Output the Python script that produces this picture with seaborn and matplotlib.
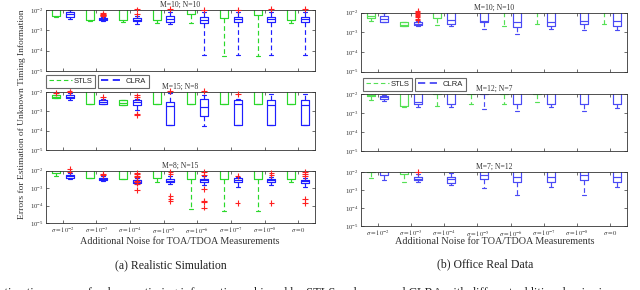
import numpy as np
import pandas as pd
import matplotlib
matplotlib.use('Agg')
import matplotlib.pyplot as plt
from matplotlib.lines import Line2D
from matplotlib.ticker import NullLocator, FixedLocator
import seaborn as sns

noise_levels = [r'$\sigma = 10^{-2}$', r'$\sigma = 10^{-3}$', r'$\sigma = 10^{-4}$',
                r'$\sigma = 10^{-5}$', r'$\sigma = 10^{-6}$', r'$\sigma = 10^{-7}$',
                r'$\sigma = 10^{-8}$', r'$\sigma = 0$']
methods = ['STLS', 'CLRA']

# each box: log10 of (low whisker, q1, median, q3, high whisker); values > -2 fall off the top
HIDDEN = (-1.9, -1.8, -1.7, -1.6, -1.5)

# (a) realistic simulation
sim_a_stls = [(-2.35, -2.31, -1.9, -1.7, -1.5), (-2.55, -2.50, -1.9, -1.7, -1.5),
              (-2.60, -2.50, -1.9, -1.7, -1.5), (-2.62, -2.50, -1.9, -1.7, -1.5),
              (-2.62, -2.22, -1.9, -1.7, -1.5), (-4.28, -2.37, -1.9, -1.7, -1.5),
              (-4.28, -2.25, -1.9, -1.7, -1.5), (-2.62, -2.50, -1.9, -1.7, -1.5)]
sim_a_clra = [(-2.42, -2.33, -2.22, -2.12, -2.00), (-2.55, -2.50, -2.45, -2.38, -2.33),
              (-2.67, -2.55, -2.47, -2.38, -2.28), (-2.67, -2.58, -2.42, -2.28, -2.12),
              (-4.22, -2.62, -2.47, -2.33, -2.08), (-4.20, -2.60, -2.45, -2.33, -2.10),
              (-4.20, -2.60, -2.45, -2.33, -2.08), (-4.20, -2.60, -2.45, -2.33, -2.10)]
sim_a_out = [(1, 'CLRA', -2.17), (1, 'CLRA', -2.20), (1, 'CLRA', -2.23), (1, 'CLRA', -2.26),
             (1, 'CLRA', -2.28), (2, 'CLRA', -1.97), (2, 'CLRA', -2.22), (3, 'CLRA', -1.95),
             (4, 'CLRA', -1.98), (5, 'CLRA', -2.00), (6, 'CLRA', -1.93), (7, 'CLRA', -1.97)]

sim_b_stls = [(-2.33, -2.31, -2.24, -2.17, -2.15), (-2.62, -2.60, -1.9, -1.7, -1.5),
              (-2.66, -2.65, -2.55, -2.43, -2.42), (-2.62, -2.60, -1.9, -1.7, -1.5),
              (-2.62, -2.60, -1.9, -1.7, -1.5), (-2.62, -2.60, -1.9, -1.7, -1.5),
              (-2.62, -2.60, -1.9, -1.7, -1.5), (-2.62, -2.60, -1.9, -1.7, -1.5)]
sim_b_clra = [(-2.43, -2.31, -2.24, -2.17, -2.03), (-2.62, -2.60, -2.52, -2.43, -2.34),
              (-2.95, -2.65, -2.50, -2.43, -2.34), (-3.70, -3.69, -2.72, -2.52, -2.03),
              (-3.76, -3.24, -2.78, -2.38, -2.14), (-3.73, -3.72, -2.60, -2.43, -2.34),
              (-3.73, -3.72, -2.65, -2.43, -2.09), (-3.73, -3.72, -2.65, -2.43, -2.09)]
sim_b_out = [(0, 'STLS', -2.03), (0, 'CLRA', -1.97), (0, 'CLRA', -1.99), (1, 'CLRA', -2.26),
             (2, 'CLRA', -2.17), (2, 'CLRA', -2.28), (2, 'CLRA', -3.12), (2, 'CLRA', -3.20),
             (3, 'CLRA', -1.95), (4, 'CLRA', -1.96), (5, 'CLRA', -2.09)]

sim_c_stls = [(-2.29, -2.15, -1.9, -1.7, -1.5), (-2.42, -2.40, -1.9, -1.7, -1.5),
              (-2.50, -2.48, -1.9, -1.7, -1.5), (-2.63, -2.40, -1.9, -1.7, -1.5),
              (-4.19, -2.48, -1.9, -1.7, -1.5), (-4.34, -2.48, -1.9, -1.7, -1.5),
              (-4.30, -2.48, -1.9, -1.7, -1.5), (-2.63, -2.48, -1.9, -1.7, -1.5)]
sim_c_clra = [(-2.48, -2.44, -2.34, -2.25, -2.15), (-2.59, -2.53, -2.47, -2.40, -2.34),
              (-2.78, -2.72, -2.63, -2.53, -2.40), (-2.78, -2.67, -2.59, -2.50, -2.29),
              (-2.82, -2.67, -2.57, -2.48, -2.34), (-2.97, -2.67, -2.57, -2.45, -2.35),
              (-2.82, -2.67, -2.57, -2.48, -2.36), (-2.97, -2.72, -2.62, -2.53, -2.40)]
sim_c_out = [(0, 'CLRA', -1.92), (0, 'CLRA', -2.06), (1, 'CLRA', -2.20), (1, 'CLRA', -2.27),
             (2, 'CLRA', -2.15), (2, 'CLRA', -2.22), (2, 'CLRA', -2.30), (2, 'CLRA', -2.38),
             (2, 'CLRA', -2.60), (2, 'CLRA', -2.68), (2, 'CLRA', -2.75), (2, 'CLRA', -3.10),
             (3, 'CLRA', -2.06), (3, 'CLRA', -2.21), (3, 'CLRA', -3.45), (3, 'CLRA', -3.60),
             (3, 'CLRA', -3.75), (4, 'CLRA', -2.10), (4, 'CLRA', -2.25), (4, 'CLRA', -3.05),
             (4, 'CLRA', -3.72), (4, 'CLRA', -3.80), (4, 'CLRA', -4.12), (5, 'CLRA', -2.30),
             (5, 'CLRA', -3.87), (6, 'CLRA', -2.15), (6, 'CLRA', -2.28), (6, 'CLRA', -3.87),
             (7, 'CLRA', -2.06), (7, 'CLRA', -2.20), (7, 'CLRA', -2.32), (7, 'CLRA', -3.62),
             (7, 'CLRA', -3.87)]

# (b) office real data
real_a_stls = [(-2.41, -2.29, -2.15, -1.9, -1.7), (-2.67, -2.66, -2.60, -2.49, -2.48),
               (-2.63, -2.29, -1.9, -1.8, -1.6), HIDDEN,
               (-2.69, -1.95, -1.8, -1.7, -1.5), (-2.58, -1.95, -1.8, -1.7, -1.5),
               HIDDEN, (-2.58, -1.95, -1.8, -1.7, -1.5)]
real_a_clra = [(-2.49, -2.46, -2.32, -2.19, -2.00), (-2.66, -2.63, -2.58, -2.49, -2.41),
               (-2.66, -2.58, -2.36, -1.9, -1.7), (-2.83, -2.49, -2.41, -1.9, -1.7),
               (-3.08, -2.75, -2.49, -1.9, -1.7), (-2.83, -2.69, -2.46, -1.9, -1.7),
               (-2.86, -2.58, -2.41, -1.9, -1.7), (-2.86, -2.69, -2.41, -1.9, -1.7)]
real_a_out = [(1, 'CLRA', -1.92), (1, 'CLRA', -1.97), (1, 'CLRA', -2.02), (1, 'CLRA', -2.07),
              (1, 'CLRA', -2.12), (1, 'CLRA', -2.17), (1, 'CLRA', -2.22), (1, 'CLRA', -2.30),
              (1, 'CLRA', -2.37)]

real_b_stls = [(-2.30, -2.09, -2.05, -1.9, -1.7), (-2.70, -2.61, -1.9, -1.8, -1.7),
               (-2.64, -1.98, -1.8, -1.7, -1.6), (-2.52, -1.98, -1.8, -1.7, -1.6),
               (-2.52, -1.98, -1.8, -1.7, -1.6), (-2.40, -1.98, -1.8, -1.7, -1.6),
               HIDDEN, HIDDEN]
real_b_clra = [(-2.35, -2.26, -2.17, -2.12, -2.05), (-2.70, -2.52, -2.43, -1.9, -1.7),
               (-2.70, -2.52, -1.95, -1.8, -1.7), (-2.78, -1.98, -1.8, -1.7, -1.6),
               (-2.87, -2.52, -1.95, -1.8, -1.7), (-2.70, -2.52, -1.95, -1.8, -1.7),
               (-2.87, -2.52, -1.95, -1.8, -1.7), (-2.75, -2.52, -1.95, -1.8, -1.7)]
real_b_out = []

real_c_stls = [(-2.33, -1.98, -1.8, -1.7, -1.6), (-2.56, -2.10, -1.8, -1.7, -1.6),
               HIDDEN, HIDDEN, HIDDEN, HIDDEN, HIDDEN, HIDDEN]
real_c_clra = [(-2.46, -2.19, -1.95, -1.8, -1.7), (-2.56, -2.46, -2.37, -2.28, -2.09),
               (-2.70, -2.59, -2.41, -2.28, -2.04), (-2.89, -2.37, -2.19, -1.9, -1.7),
               (-3.30, -2.56, -2.28, -1.9, -1.7), (-2.83, -2.56, -2.28, -1.9, -1.7),
               (-3.26, -2.46, -2.19, -1.9, -1.7), (-2.83, -2.56, -2.28, -1.9, -1.7)]
real_c_out = [(1, 'CLRA', -2.02)]


def box_frame(stls, clra):
    rows = []
    for i, lvl in enumerate(noise_levels):
        for method, boxes in (('STLS', stls), ('CLRA', clra)):
            for e in boxes[i]:
                rows.append((lvl, method, 10.0 ** e))
    return pd.DataFrame(rows, columns=['noise', 'method', 'error'])


def out_frame(out):
    rows = [(noise_levels[i], m, 10.0 ** e) for i, m, e in out]
    return pd.DataFrame(rows, columns=['noise', 'method', 'error'])


sns.set_theme(style='ticks')
plt.rcParams['font.family'] = ['Liberation Serif', 'DejaVu Serif']
plt.rcParams['mathtext.fontset'] = 'stix'
plt.rcParams['axes.linewidth'] = 0.6
plt.rcParams['axes.edgecolor'] = '#333333'

fig = plt.figure(figsize=(6.4, 2.9), dpi=100)

left_pal = {'STLS': '#2bd82b', 'CLRA': '#1f1fff'}
right_pal = {'STLS': '#55e055', 'CLRA': '#4a4af5'}

# (rect in pixels from top-left: x0, y0, x1, y1), title, data, palette
panels = [
    ((46, 10, 315, 71), 'M=10; N=10', sim_a_stls, sim_a_clra, sim_a_out, left_pal, False),
    ((46, 92, 315, 150), 'M=15; N=8', sim_b_stls, sim_b_clra, sim_b_out, left_pal, False),
    ((46, 170.5, 315, 223), 'M=8; N=15', sim_c_stls, sim_c_clra, sim_c_out, left_pal, True),
    ((361, 12.7, 627, 71.7), 'M=10; N=10', real_a_stls, real_a_clra, real_a_out, right_pal, False),
    ((361, 94, 627, 151), 'M=12; N=7', real_b_stls, real_b_clra, real_b_out, right_pal, False),
    ((361, 172, 627, 226), 'M=7; N=12', real_c_stls, real_c_clra, real_c_out, right_pal, True),
]

W, H = 640, 290
for (x0, y0, x1, y1), title, stls, clra, out, pal, bottom in panels:
    ax = fig.add_axes([x0 / W, 1 - y1 / H, (x1 - x0) / W, (y1 - y0) / H])
    sns.boxplot(data=box_frame(stls, clra), x='noise', y='error', hue='method',
                order=noise_levels, hue_order=methods, palette=pal, fill=False,
                whis=(0, 100), width=0.8, gap=0.4, linewidth=0.85, log_scale=True,
                whiskerprops={'linestyle': (0, (4, 2.5))}, legend=False, ax=ax)
    if len(out):
        sns.stripplot(data=out_frame(out), x='noise', y='error', hue='method',
                      order=noise_levels, hue_order=methods,
                      palette={'STLS': '#ff2020', 'CLRA': '#ff2020'},
                      dodge=True, jitter=False, marker='+', size=4, linewidth=0.8,
                      log_scale=True, legend=False, clip_on=False, ax=ax)
    ax.set_ylim(1e-5, 1e-2)
    ax.set_xlim(-0.5, 7.5)
    ax.yaxis.set_major_locator(FixedLocator([1e-5, 1e-4, 1e-3, 1e-2]))
    ax.yaxis.set_minor_locator(NullLocator())
    ax.set_title(title, fontsize=5.5, pad=2, color='#333333')
    ax.set_xlabel('')
    ax.set_ylabel('')
    for s in ax.spines.values():
        s.set_visible(True)
    ax.tick_params(direction='in', length=2, width=0.5, top=True, right=True,
                   labelsize=4.8, pad=2, colors='#333333')
    if not bottom:
        ax.set_xticklabels([])

# legends: two framed entries side by side under the top panels
for (lx, ly), pal in (((46, 75), left_pal), ((363, 78), right_pal)):
    for k, (name, lw) in enumerate((('STLS', 0.8), ('CLRA', 1.3))):
        h = Line2D([], [], color=pal[name], linestyle=(0, (4, 2.5)), lw=lw)
        leg = fig.legend([h], [name], loc='upper left',
                         bbox_to_anchor=((lx + k * 52) / W, 1 - ly / H),
                         prop={'family': 'Liberation Sans', 'size': 5.5},
                         frameon=True, fancybox=False, edgecolor='#444444',
                         handlelength=3.0, handletextpad=0.3, borderpad=0.35,
                         borderaxespad=0)
        leg.get_frame().set_linewidth(0.8)

fig.text(0.034, 0.607, 'Errors for Estimation of Unknown Timing Information',
         rotation=90, ha='center', va='center', fontsize=6.8, color='#333333')
fig.text(180 / W, 1 - 241 / H, 'Additional Noise for TOA/TDOA Measurements',
         ha='center', va='center', fontsize=7.3, color='#333333')
fig.text(495 / W, 1 - 242 / H, 'Additional Noise for TOA/TDOA Measurements',
         ha='center', va='center', fontsize=7.3, color='#333333')
fig.text(171 / W, 1 - 265 / H, '(a) Realistic Simulation',
         ha='center', va='center', fontsize=8.5, color='#222222')
fig.text(485 / W, 1 - 264 / H, '(b) Office Real Data',
         ha='center', va='center', fontsize=8.5, color='#222222')
fig.text(-0.012, -0.012, 'Estimation errors of unknown timing information achieved by STLS '
         'and proposed CLRA with different additional noise in',
         ha='left', va='center', fontsize=9, color='#222222')

fig.savefig('out.png', dpi=100)
